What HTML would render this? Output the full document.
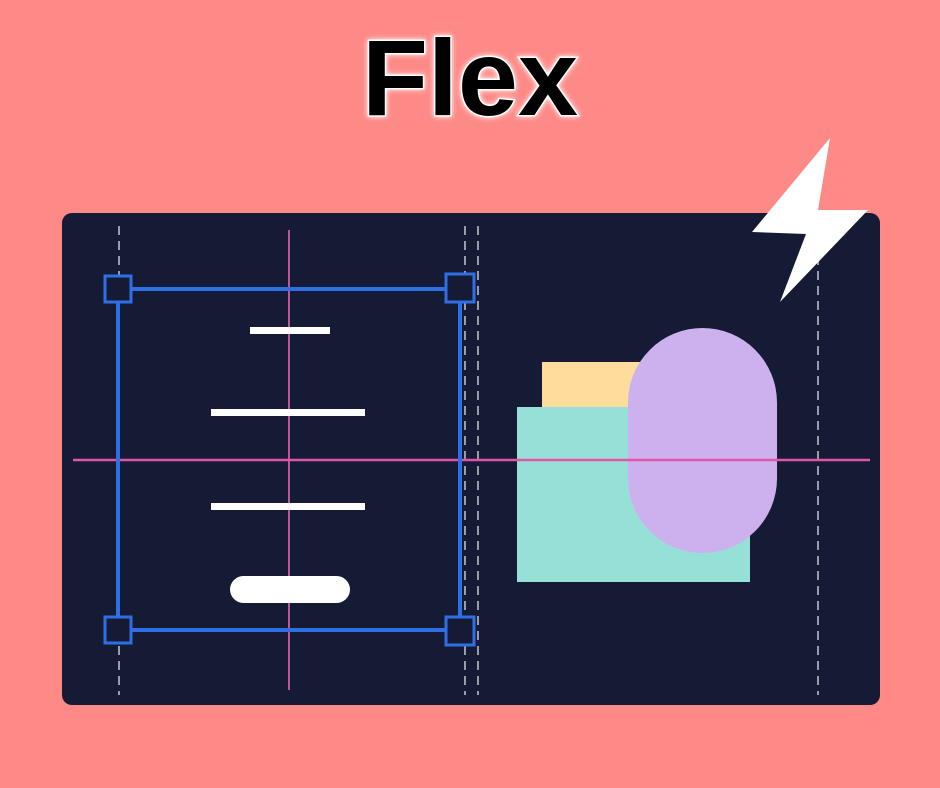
<!DOCTYPE html>
<html><head><meta charset="utf-8"><style>
html,body{margin:0;padding:0;background:#fd8a87;}
svg{display:block}
</style></head><body>
<svg width="940" height="788" viewBox="0 0 940 788" xmlns="http://www.w3.org/2000/svg">
<rect width="940" height="788" fill="#fd8a87"/>
<text x="470" y="115" text-anchor="middle" font-family="Liberation Sans, sans-serif" font-weight="bold" font-size="108" fill="#000" stroke="#fff" stroke-width="3" paint-order="stroke" style="filter:drop-shadow(0 0 3px #fff)">Flex</text>
<rect x="62" y="213" width="818" height="492" rx="10" fill="#151b35"/>
<g stroke="#9a9ca8" stroke-width="2" stroke-dasharray="9 6">
<line x1="119" y1="226" x2="119" y2="695"/>
<line x1="465" y1="226" x2="465" y2="695"/>
<line x1="478" y1="226" x2="478" y2="695"/>
<line x1="818" y1="226" x2="818" y2="695"/>
</g>
<rect x="542" y="362" width="100" height="50" fill="#fedc9c"/>
<rect x="517" y="407" width="233" height="175" fill="#97e0d8"/>
<rect x="628" y="328" width="149" height="225" rx="74.5" fill="#cdb0ee"/>
<line x1="289" y1="230" x2="289" y2="690" stroke="#c0569a" stroke-width="2"/>
<line x1="73" y1="460" x2="870" y2="460" stroke="#e055a8" stroke-width="2.5"/>
<rect x="118" y="289" width="342" height="341" fill="none" stroke="#2f6fe6" stroke-width="4"/>
<g fill="#151b35" stroke="#2f6fe6" stroke-width="3">
<rect x="105" y="276" width="26" height="26"/>
<rect x="446" y="274" width="28" height="28"/>
<rect x="105" y="617" width="26" height="26"/>
<rect x="446" y="617" width="28" height="28"/>
</g>
<g fill="#fff">
<rect x="250" y="327" width="80" height="7"/>
<rect x="211" y="409" width="154" height="7"/>
<rect x="211" y="503" width="154" height="7"/>
<rect x="230" y="576" width="120" height="27" rx="13.5"/>
</g>
<polygon points="830,138 752,232 806,234 780,302 868,210 818,210" fill="#fff"/>
</svg>
</body></html>
